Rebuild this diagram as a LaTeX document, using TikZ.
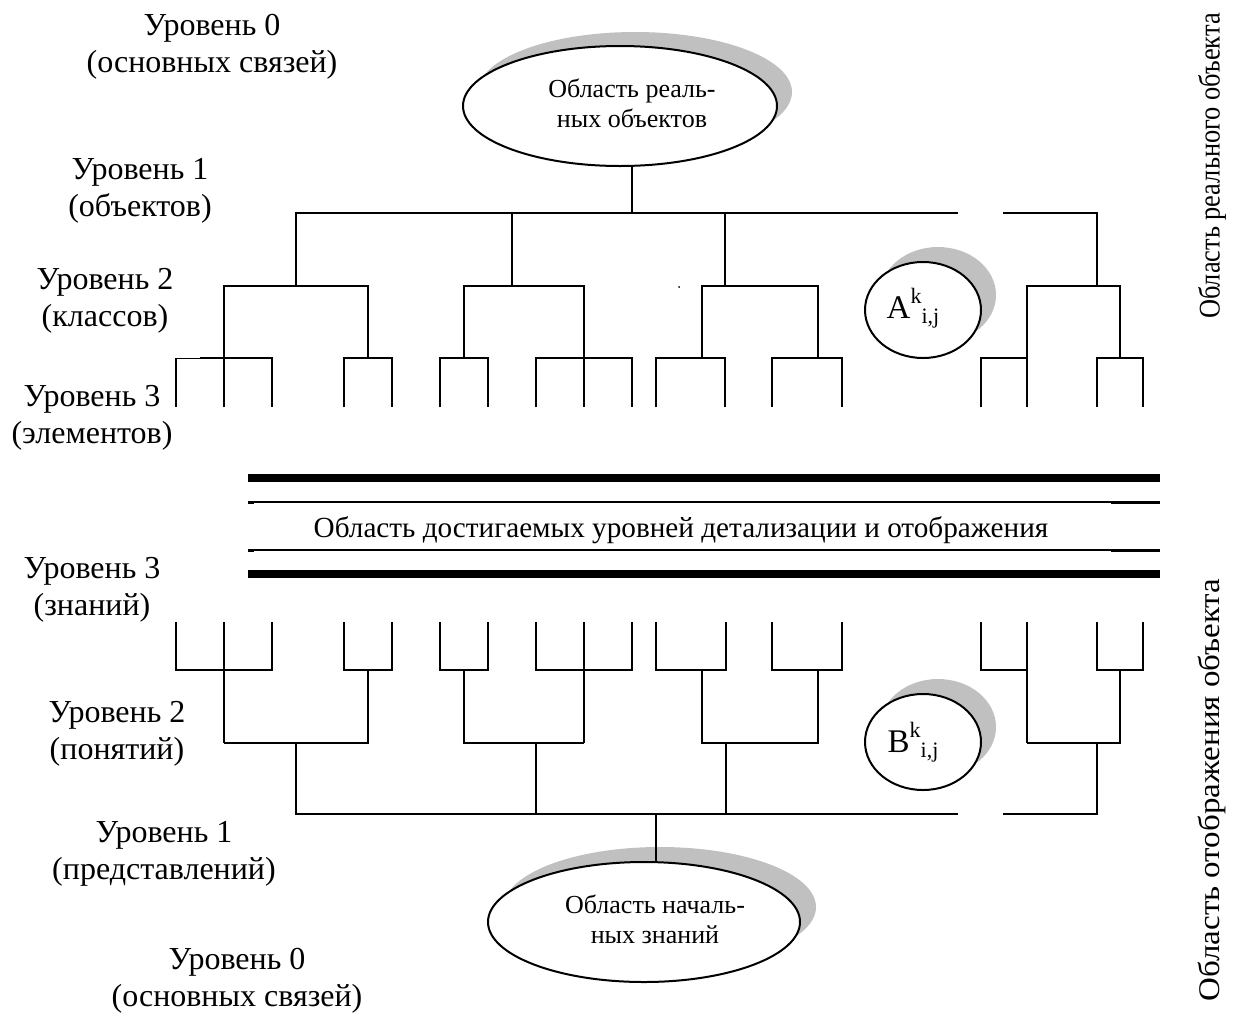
\documentclass[tikz,border=0pt]{standalone}
\usepackage{fontspec}
\setmainfont{Liberation Serif}
\usetikzlibrary{shapes.geometric}
\definecolor{shadowgray}{RGB}{192,192,192}
\tikzset{
  tree/.style={line width=2pt, line join=miter},
  lab/.style={font=\fontsize{32}{37.5}\selectfont, align=center, inner sep=0pt},
  etext/.style={font=\fontsize{26}{30}\selectfont, align=center, inner sep=0pt},
  mid/.style={font=\fontsize{29.2}{34}\selectfont, inner sep=0pt},
  side/.style={font=\fontsize{30}{34}\selectfont, inner sep=0pt, rotate=90},
  bigell/.style={ellipse, draw, line width=2pt, fill=white, minimum width=314pt, minimum height=120pt, inner sep=0pt},
  smallell/.style={ellipse, draw, line width=2pt, fill=white, minimum width=116pt, minimum height=96pt, inner sep=0pt},
  thickbar/.style={line width=8pt},
  thinbar/.style={line width=1.5pt},
  eltext/.style={font=\fontsize{33}{36}\selectfont, inner sep=0pt},
}
\newcommand{\supsub}[1]{#1\raisebox{15pt}{\fontsize{22}{22}\selectfont k}\raisebox{-5pt}{\fontsize{22}{22}\selectfont i,j}}
\begin{document}
\begin{tikzpicture}[x=1pt,y=-1pt]
\useasboundingbox (0,0) rectangle (1237,1018);

% ---------- left labels ----------
\node[lab] (l0t) at (212,47) {Уровень 0\\(основных связей)};
\node[lab] (l1t) at (140,191) {Уровень 1\\(объектов)};
\node[lab] (l2t) at (105,301) {Уровень 2\\(классов)};
\node[lab] (l3t) at (92,418) {Уровень 3\\(элементов)};
\node[lab] (l3b) at (92,590) {Уровень 3\\(знаний)};
\node[lab] (l2b) at (117,734) {Уровень 2\\(понятий)};
\node[lab] (l1b) at (164,854) {Уровень 1\\(представлений)};
\node[lab] (l0b) at (237,981) {Уровень 0\\(основных связей)};

% ---------- right rotated labels ----------
\node[side] (rt) at (1212,166) {\scalebox{0.88}[1]{Область реального объекта}};
\node[side] (rb) at (1212,790) {\scalebox{1.1}[1]{Область отображения объекта}};

% ---------- top ellipse ----------
\fill[shadowgray] (635,92) ellipse [x radius=157, y radius=60];
\node[bigell] (E1) at (620,106) {};
\node[etext] (E1t) at (632,103) {Область реаль-\\ных объектов};

% ---------- bottom ellipse ----------
\fill[shadowgray] (660,907) ellipse [x radius=156, y radius=60];
\node[bigell, minimum width=312pt] (E2) at (644,922) {};
\node[etext] (E2t) at (655,919) {Область началь-\\ных знаний};

% ---------- small ellipses ----------
\fill[shadowgray] (938,295) ellipse [x radius=58, y radius=48];
\node[smallell] (EA) at (923,310) {};
\node[eltext] (EAt) at (913,308) {\supsub{A}};
\fill[shadowgray] (938,727) ellipse [x radius=58, y radius=48];
\node[smallell] (EB) at (923,742) {};
\node[eltext] (EBt) at (913,742) {\supsub{B}};

% ---------- top tree ----------
\coordinate (t0) at (632,213);
\draw[tree] (t0) -- (t0 |- E1.south);
\draw[tree] (296,286) -- (296,213) -- (958,213);
\draw[tree] (1003,213) -- (1097,213) -- (1097,286);
\foreach \x in {512,725} \draw[tree] (\x,213) -- (\x,286);
% level 2
\draw[tree] (224,407) -- (224,286) -- (368,286) -- (368,358);
\draw[tree] (464,358) -- (464,286) -- (584,286) -- (584,407);
\draw[tree] (702,358) -- (702,286) -- (818,286) -- (818,358);
\draw[tree] (1027,407) -- (1027,286) -- (1120,286) -- (1120,358);
% level 3
\draw[line width=1pt] (176,358) -- (200,358);
\draw[tree] (200,358) -- (272,358) -- (272,407);
\draw[tree] (176,358) -- (176,407);
\draw[tree] (344,407) -- (344,358) -- (392,358) -- (392,407);
\draw[tree] (440,407) -- (440,358) -- (488,358) -- (488,407);
\draw[tree] (536,407) -- (536,358) -- (632,358) -- (632,407);
\draw[tree] (656,407) -- (656,358) -- (725,358) -- (725,407);
\draw[tree] (772,407) -- (772,358) -- (842,358) -- (842,407);
\draw[tree] (981,407) -- (981,358) -- (1027,358);
\draw[tree] (1097,407) -- (1097,358) -- (1143,358) -- (1143,407);
\fill (679,287) circle (1);

% ---------- middle band ----------
\draw[thickbar] (248,478) -- (1160,478);
\draw[thickbar] (248,574) -- (1160,574);
\draw[thinbar] (254,502) -- (1111,502);
\draw[thinbar] (254,550) -- (1111,550);
\draw[line width=3pt] (248,502) -- (254,502);
\draw[line width=3pt] (248,550) -- (254,550);
\draw[line width=3pt] (1111,502) -- (1160,502);
\draw[line width=3pt] (1111,550) -- (1160,550);
\node[mid] (midt) at (681,530) {Область достигаемых уровней детализации и отображения};

% ---------- bottom tree ----------
% level 3
\draw[tree] (176,622) -- (176,670) -- (272,670) -- (272,622);
\draw[tree] (224,622) -- (224,743);
\draw[tree] (344,622) -- (344,670) -- (392,670) -- (392,622);
\draw[tree] (440,622) -- (440,670) -- (488,670) -- (488,622);
\draw[tree] (536,622) -- (536,670) -- (632,670) -- (632,622);
\draw[tree] (584,622) -- (584,743);
\draw[tree] (656,622) -- (656,670) -- (726,670) -- (726,622);
\draw[tree] (772,622) -- (772,670) -- (842,670) -- (842,622);
\draw[tree] (981,622) -- (981,670) -- (1027,670);
\draw[tree] (1027,622) -- (1027,743);
\draw[tree] (1097,622) -- (1097,670) -- (1143,670) -- (1143,622);
% level 2
\draw[tree] (224,743) -- (368,743) -- (368,670);
\draw[tree] (464,670) -- (464,743) -- (584,743);
\draw[tree] (702,670) -- (702,743) -- (818,743) -- (818,670);
\draw[tree] (1027,743) -- (1120,743) -- (1120,670);
% level 1
\draw[tree] (296,743) -- (296,814) -- (958,814);
\draw[tree] (1003,814) -- (1097,814) -- (1097,743);
\foreach \x in {536,726} \draw[tree] (\x,743) -- (\x,814);
\coordinate (b0) at (656,814);
\draw[tree] (b0) -- (b0 |- E2.north);
\end{tikzpicture}
\end{document}
